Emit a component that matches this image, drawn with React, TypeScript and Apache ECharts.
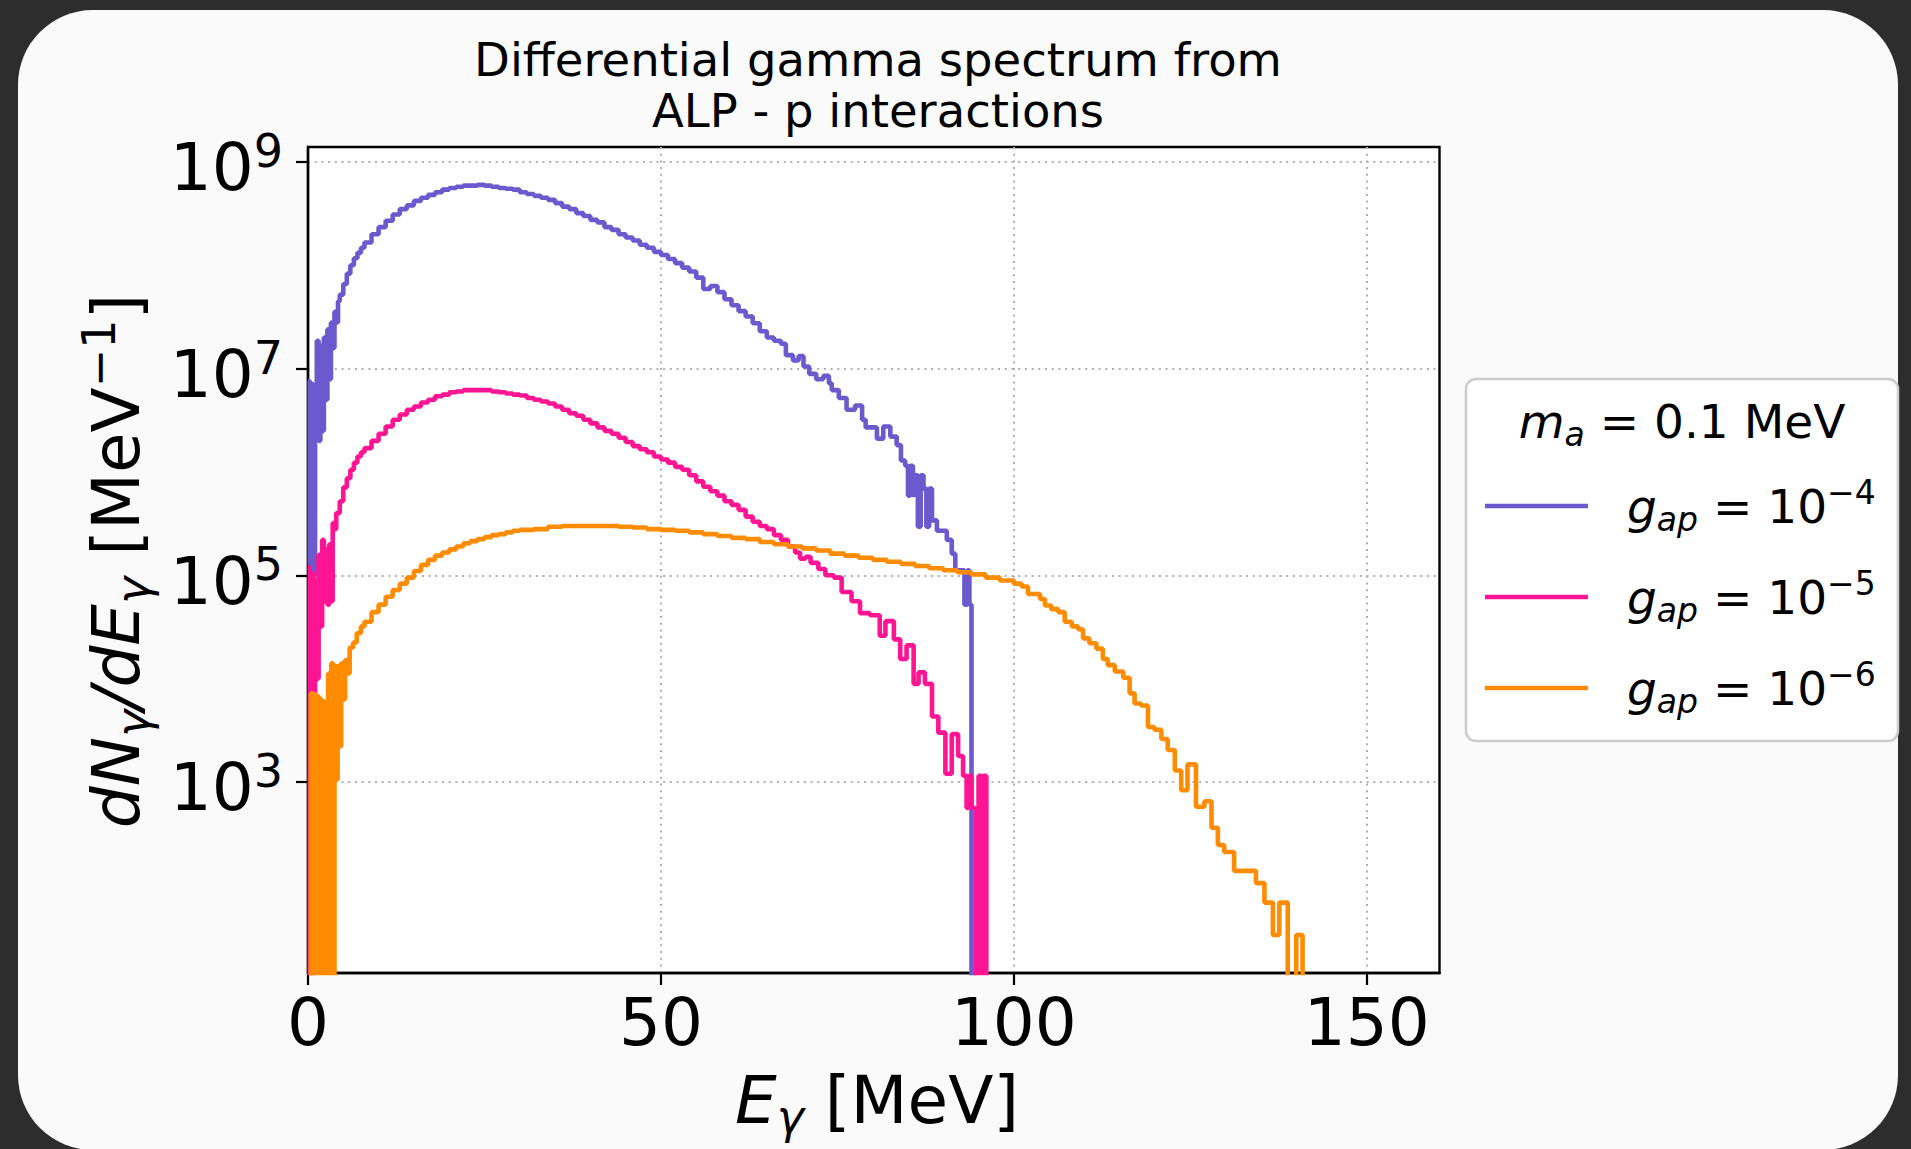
import React, { useEffect, useRef } from "react";
import * as echarts from "echarts";

// ---------- data (bin left edge in MeV, dN/dE in MeV^-1; 0 = empty bin) ----------
const purpleBins: [number, number][] = [
  [0, 7.6e6], [0.25, 1.26e5], [0.5, 7.1e6], [0.75, 1.0e5], [1.0, 6.3e6], [1.25, 1.86e7],
  [1.5, 2.0e6], [1.75, 1.66e7], [2.0, 2.5e6], [2.25, 2.0e7], [2.5, 5.0e6], [2.75, 2.4e7],
  [3.0, 7.9e6], [3.25, 2.8e7], [3.5, 1.58e7], [3.75, 3.55e7], [4.0, 2.8e7], [4.25, 4.5e7],
  [4.5, 5.2e7], [5, 6.6e7], [5.5, 8.3e7], [6, 1.0e8], [6.5, 1.17e8], [7, 1.32e8], [7.5, 1.48e8],
  [8, 1.66e8], [9, 2.0e8], [10, 2.34e8], [11, 2.7e8], [12, 3.1e8], [13, 3.5e8], [14, 3.8e8],
  [15, 4.2e8], [16, 4.5e8], [17, 4.8e8], [18, 5.1e8], [19, 5.4e8], [20, 5.6e8], [21, 5.75e8],
  [22, 5.9e8], [23, 5.9e8], [24, 6.0e8], [25, 5.9e8], [26, 5.75e8], [27, 5.6e8], [28, 5.5e8],
  [29, 5.4e8], [30, 5.1e8], [31, 4.9e8], [32, 4.7e8], [33, 4.5e8], [34, 4.3e8], [35, 4.0e8],
  [36, 3.7e8], [37, 3.5e8], [38, 3.2e8], [39, 3.0e8], [40, 2.75e8], [41, 2.6e8], [42, 2.34e8],
  [43, 2.2e8], [44, 2.0e8], [45, 1.86e8], [46, 1.74e8], [47, 1.58e8], [48, 1.48e8], [49, 1.35e8],
  [50, 1.26e8], [51, 1.15e8], [52, 1.05e8], [53, 9.5e7], [54, 8.7e7], [55, 7.6e7], [56, 5.9e7],
  [57, 6.3e7], [58, 5.5e7], [59, 4.7e7], [60, 4.1e7], [61, 3.6e7], [62, 3.2e7], [63, 2.75e7],
  [64, 2.3e7], [65, 2.0e7], [66, 1.86e7], [67, 1.74e7], [67.7, 1.35e7], [68.7, 1.2e7],
  [69.5, 1.32e7], [70.2, 1.05e7], [71, 8.9e6], [72, 7.9e6], [73, 8.5e6], [73.8, 7.2e6],
  [74.2, 6.2e6], [75.2, 5.2e6], [76.3, 4.0e6], [77.5, 4.4e6], [78.5, 3.2e6], [79, 2.7e6],
  [80.6, 2.1e6], [81.5, 2.75e6], [82.5, 2.2e6], [83.4, 1.82e6], [84, 1.29e6], [84.6, 1.15e6],
  [85, 5.9e5], [85.3, 1.15e6], [85.7, 6.0e5], [86, 9.3e5], [86.4, 2.95e5], [86.8, 9.3e5],
  [87.2, 6.9e5], [87.6, 2.95e5], [88, 6.9e5], [88.4, 3.4e5], [89.1, 2.7e5], [90.5, 2.2e5],
  [91.2, 1.62e5], [91.7, 1.12e5], [93, 5.2e4], [93.4, 1.12e5], [93.7, 5.2e4], [94, 0],
];

const pinkBins: [number, number][] = [
  [0, 1.2e5], [0.25, 0], [0.5, 1.05e5], [0.75, 5.0e3], [1.0, 8.9e4], [1.25, 1.0e4],
  [1.5, 1.58e5], [1.75, 3.2e4], [2.0, 2.2e5], [2.25, 5.6e4], [2.5, 1.78e5], [2.75, 5.2e4],
  [3.0, 2.0e5], [3.25, 5.6e4], [3.5, 3.2e5], [3.75, 2.8e5], [4.0, 4.0e5], [4.5, 5.2e5],
  [5, 7.1e5], [5.5, 8.7e5], [6, 1.05e6], [6.5, 1.23e6], [7, 1.41e6], [7.5, 1.55e6], [8, 1.7e6],
  [9, 2.0e6], [10, 2.34e6], [11, 2.75e6], [12, 3.2e6], [13, 3.6e6], [14, 4.0e6], [15, 4.3e6],
  [16, 4.7e6], [17, 5.0e6], [18, 5.4e6], [19, 5.6e6], [20, 5.9e6], [21, 6.0e6], [22, 6.2e6],
  [23, 6.2e6], [24, 6.2e6], [25, 6.2e6], [26, 6.0e6], [27, 5.9e6], [28, 5.75e6], [29, 5.6e6],
  [30, 5.5e6], [31, 5.2e6], [32, 5.0e6], [33, 4.8e6], [34, 4.6e6], [35, 4.3e6], [36, 4.0e6],
  [37, 3.7e6], [38, 3.5e6], [39, 3.2e6], [40, 2.95e6], [41, 2.7e6], [42, 2.5e6], [43, 2.34e6],
  [44, 2.14e6], [45, 1.95e6], [46, 1.78e6], [47, 1.66e6], [48, 1.55e6], [49, 1.41e6],
  [50, 1.32e6], [51, 1.23e6], [52, 1.12e6], [53, 1.05e6], [54, 9.3e5], [55, 8.1e5], [56, 7.2e5],
  [57, 6.5e5], [58, 5.9e5], [59, 5.2e5], [60, 4.8e5], [61, 4.3e5], [62, 3.7e5], [63, 3.3e5],
  [64, 3.0e5], [65, 2.8e5], [66, 2.45e5], [67, 2.2e5], [68, 1.9e5], [69, 1.66e5],
  [69.7, 1.45e5], [70.5, 1.51e5], [71.2, 1.32e5], [72.3, 1.15e5], [73.3, 1.0e5], [74.5, 9.5e4],
  [75.6, 6.9e4], [77, 5.6e4], [78.2, 4.3e4], [79.6, 4.1e4], [81, 2.6e4], [81.8, 3.6e4],
  [83, 2.4e4], [83.9, 1.55e4], [84.8, 2.1e4], [85.8, 8.9e3], [86.5, 1.15e4], [87.4, 8.9e3],
  [88.4, 4.3e3], [89.3, 3.0e3], [90.3, 1.2e3], [91.2, 2.9e3], [92.1, 1.78e3], [92.8, 1.15e3],
  [93.3, 5.6e2], [93.6, 1.15e3], [94, 5.6e2], [94.6, 0], [95, 1.15e3], [95.4, 0], [95.7, 1.15e3],
  [96.1, 0],
];

const orangeBins: [number, number][] = [
  [0, 0], [0.4, 7.2e3], [0.6, 0], [0.8, 7.1e3], [1.05, 0], [1.25, 6.8e3], [1.5, 0], [1.7, 6.3e3],
  [1.95, 0], [2.15, 6.0e3], [2.4, 3.7e3], [2.6, 0], [2.85, 1.12e4], [3.1, 0], [3.3, 1.41e4],
  [3.55, 0], [3.75, 1.32e4], [4.0, 1.05e3], [4.2, 1.32e4], [4.45, 2.2e3], [4.7, 1.41e4],
  [5.0, 6.3e3], [5.25, 1.51e4], [5.6, 1.12e4], [5.9, 2.0e4], [6.4, 2.24e4], [6.9, 2.75e4],
  [7.5, 3.2e4], [8, 3.55e4], [9, 4.4e4], [10, 5.2e4], [11, 6.2e4], [12, 7.2e4], [13, 8.3e4],
  [14, 9.5e4], [15, 1.1e5], [16, 1.26e5], [17, 1.41e5], [18, 1.55e5], [19, 1.66e5], [20, 1.78e5],
  [21, 1.9e5], [22, 2.04e5], [23, 2.14e5], [24, 2.24e5], [25, 2.34e5], [26, 2.45e5], [27, 2.5e5],
  [28, 2.6e5], [29, 2.7e5], [30, 2.75e5], [32, 2.8e5], [34, 2.95e5], [36, 3.0e5], [42, 3.0e5],
  [44, 2.95e5], [46, 2.9e5], [48, 2.8e5], [50, 2.75e5], [52, 2.7e5], [54, 2.6e5], [56, 2.5e5],
  [58, 2.4e5], [60, 2.3e5], [62, 2.24e5], [64, 2.1e5], [66, 2.0e5], [68, 1.9e5], [70, 1.82e5],
  [72, 1.74e5], [74, 1.62e5], [76, 1.55e5], [78, 1.48e5], [80, 1.41e5], [82, 1.35e5],
  [84, 1.29e5], [86, 1.23e5], [88, 1.17e5], [90, 1.12e5], [92, 1.07e5], [94, 1.02e5],
  [96, 9.5e4], [98, 8.9e4], [100, 8.3e4], [101.1, 7.8e4], [102, 6.6e4], [103.7, 5.9e4],
  [104.4, 5.1e4], [105.3, 4.7e4], [106.3, 4.4e4], [107.2, 3.55e4], [108.2, 3.2e4], [109.1, 3.0e4],
  [109.8, 2.45e4], [110.7, 2.2e4], [111.7, 1.95e4], [112.6, 1.55e4], [113.3, 1.35e4],
  [114.3, 1.17e4], [115.5, 1.02e4], [116.4, 7.2e3], [117.1, 5.75e3], [118, 5.5e3], [119, 3.4e3],
  [119.9, 3.2e3], [120.9, 2.6e3], [121.8, 2.04e3], [122.8, 1.29e3], [123.7, 8.3e2],
  [124.6, 1.48e3], [125.8, 5.75e2], [127, 6.5e2], [128, 3.6e2], [128.9, 2.45e2], [129.8, 2.1e2],
  [131.2, 1.38e2], [134.3, 1.05e2], [135.5, 68], [136.7, 33], [137.6, 68], [138.8, 0],
  [140, 33], [140.9, 0],
];

const seriesNames = ["g_ap = 10^-4", "g_ap = 10^-5", "g_ap = 10^-6"];
const seriesExponents = ["−4", "−5", "−6"];
const seriesColors = ["#6A5ACD", "#FF1493", "#FF8C00"];
const xTicks = [0, 50, 100, 150];
const yTicks = [1e3, 1e5, 1e7, 1e9];

const FONT = "DejaVu Sans";
const FLOOR = 1e-2; // empty bins: below the axis floor, clipped to the bottom edge

const toLine = (bins: [number, number][]) =>
  bins.map(([e, v]) => [e, v > 0 ? v : FLOOR]);

export default function App() {
  const ref = useRef<HTMLDivElement>(null);

  useEffect(() => {
    if (!ref.current) return;
    const chart = echarts.init(ref.current, null, { renderer: "svg" });
    const allBins = [purpleBins, pinkBins, orangeBins];

    const option: any = {
      animation: false,
      backgroundColor: "transparent",
      title: {
        text: "Differential gamma spectrum from\nALP - p interactions",
        left: 873,
        top: 29,
        textAlign: "center",
        textStyle: {
          fontFamily: FONT,
          fontSize: 46.5,
          fontWeight: "normal",
          color: "#000",
          lineHeight: 51,
        },
      },
      grid: {
        left: 308,
        top: 147,
        width: 1131.5,
        height: 826,
        show: true,
        backgroundColor: "#ffffff",
        borderColor: "#000",
        borderWidth: 2.4,
        containLabel: false,
        outerBoundsMode: "none",
      },
      xAxis: {
        type: "value",
        min: 0,
        max: 160.3,
        axisLine: { show: true, onZero: false, lineStyle: { color: "#000", width: 2.4 } },
        axisTick: {
          show: true,
          inside: false,
          length: 12,
          customValues: xTicks,
          lineStyle: { color: "#000", width: 2.2 },
        },
        axisLabel: {
          customValues: xTicks,
          fontFamily: FONT,
          fontSize: 66,
          lineHeight: 66,
          color: "#000",
          margin: 16,
        },
        splitLine: {
          show: true,
          lineStyle: { color: "#b0b0b0", width: 2, type: [2, 4.7] },
        },
      },
      yAxis: {
        type: "log",
        logBase: 10,
        min: 14.16,
        max: 1.396e9,
        axisLine: { show: true, onZero: false, lineStyle: { color: "#000", width: 2.4 } },
        axisTick: {
          show: true,
          inside: false,
          length: 12,
          customValues: yTicks,
          lineStyle: { color: "#000", width: 2.2 },
        },
        minorTick: { show: false },
        axisLabel: {
          customValues: yTicks,
          margin: 25,
          color: "#000",
          padding: [12, 0, 0, 0],
          formatter: (v: number) => `{b|10}{s|${Math.round(Math.log10(v))}}`,
          rich: {
            b: { fontFamily: FONT, fontSize: 66, lineHeight: 80, color: "#000" },
            s: {
              fontFamily: FONT,
              fontSize: 46,
              lineHeight: 46,
              verticalAlign: "top",
              color: "#000",
            },
          },
        },
        splitLine: {
          show: true,
          lineStyle: { color: "#b0b0b0", width: 2, type: [2, 4.7] },
        },
      },
      legend: {
        show: true,
        orient: "vertical",
        left: 1485,
        top: 476,
        padding: 0,
        itemGap: 31,
        itemWidth: 103,
        itemHeight: 4.5,
        icon: "rect",
        selectedMode: false,
        data: seriesNames,
        formatter: (name: string) => {
          const i = seriesNames.indexOf(name);
          return `{sp| }{g|g}{sub|ap}{n| = 10}{sup|${seriesExponents[i]}}`;
        },
        textStyle: {
          fontFamily: FONT,
          fontSize: 47,
          color: "#000",
          rich: {
            sp: { width: 34, fontSize: 47, lineHeight: 60 },
            g: { fontFamily: FONT, fontStyle: "italic", fontSize: 47, lineHeight: 60, color: "#000" },
            sub: {
              fontFamily: FONT,
              fontStyle: "italic",
              fontSize: 33,
              lineHeight: 33,
              verticalAlign: "bottom",
              color: "#000",
            },
            n: { fontFamily: FONT, fontSize: 47, lineHeight: 60, color: "#000" },
            sup: {
              fontFamily: FONT,
              fontSize: 33,
              lineHeight: 33,
              verticalAlign: "top",
              color: "#000",
            },
          },
        },
      },
      graphic: [
        {
          type: "rect",
          z: 0,
          shape: { x: 1466, y: 379, width: 432, height: 362, r: 10 },
          style: { fill: "rgba(255,255,255,0.85)", stroke: "#cccccc", lineWidth: 2.5 },
        },
        {
          type: "text",
          z: 5,
          x: 1682,
          y: 421,
          style: {
            text: "{i|m}{s|a}{n| = 0.1 MeV}",
            align: "center",
            verticalAlign: "middle",
            textAlign: "center",
            textVerticalAlign: "middle",
            fill: "#000",
            rich: {
              i: { fontFamily: FONT, fontStyle: "italic", fontSize: 47, lineHeight: 60 },
              s: {
                fontFamily: FONT,
                fontStyle: "italic",
                fontSize: 33,
                lineHeight: 33,
                verticalAlign: "bottom",
              },
              n: { fontFamily: FONT, fontSize: 47, lineHeight: 60 },
            },
          },
        },
        {
          type: "text",
          z: 5,
          x: 877,
          y: 1100,
          style: {
            text: "{i|E}{s|γ}{n| [MeV]}",
            align: "center",
            verticalAlign: "middle",
            textAlign: "center",
            textVerticalAlign: "middle",
            fill: "#000",
            rich: {
              i: { fontFamily: FONT, fontStyle: "italic", fontSize: 66, lineHeight: 80 },
              s: {
                fontFamily: FONT,
                fontStyle: "italic",
                fontSize: 46,
                lineHeight: 46,
                verticalAlign: "bottom",
              },
              n: { fontFamily: FONT, fontSize: 66, lineHeight: 80 },
            },
          },
        },
        {
          type: "text",
          z: 5,
          x: 116,
          y: 561,
          rotation: Math.PI / 2,
          style: {
            text: "{i|dN}{s|γ}{i|/dE}{s|γ}{n| [MeV}{p|−1}{n|]}",
            align: "center",
            verticalAlign: "middle",
            textAlign: "center",
            textVerticalAlign: "middle",
            fill: "#000",
            rich: {
              i: { fontFamily: FONT, fontStyle: "italic", fontSize: 66, lineHeight: 80 },
              s: {
                fontFamily: FONT,
                fontStyle: "italic",
                fontSize: 46,
                lineHeight: 46,
                verticalAlign: "bottom",
              },
              n: { fontFamily: FONT, fontSize: 66, lineHeight: 80 },
              p: { fontFamily: FONT, fontSize: 46, lineHeight: 46, verticalAlign: "top" },
            },
          },
        },
      ],
      series: seriesNames.map((name, i) => ({
        name,
        type: "line",
        step: "end",
        symbol: "none",
        showSymbol: false,
        clip: true,
        data: toLine(allBins[i]),
        lineStyle: { width: 4.6, color: seriesColors[i] },
        itemStyle: { color: seriesColors[i] },
        emphasis: { disabled: true },
        z: 2 + i,
      })),
    };

    chart.setOption(option);
    return () => chart.dispose();
  }, []);

  return (
    <div
      style={{
        position: "fixed",
        left: 0,
        top: 0,
        width: 1911,
        height: 1149,
        background: "#2d2d2d",
        overflow: "hidden",
      }}
    >
      <div
        style={{
          position: "absolute",
          left: 18,
          top: 10,
          width: 1880,
          height: 1140,
          borderRadius: 75,
          background: "#fafafa",
        }}
      />
      <div
        ref={ref}
        style={{ position: "absolute", left: 0, top: 0, width: 1911, height: 1149 }}
      />
    </div>
  );
}
